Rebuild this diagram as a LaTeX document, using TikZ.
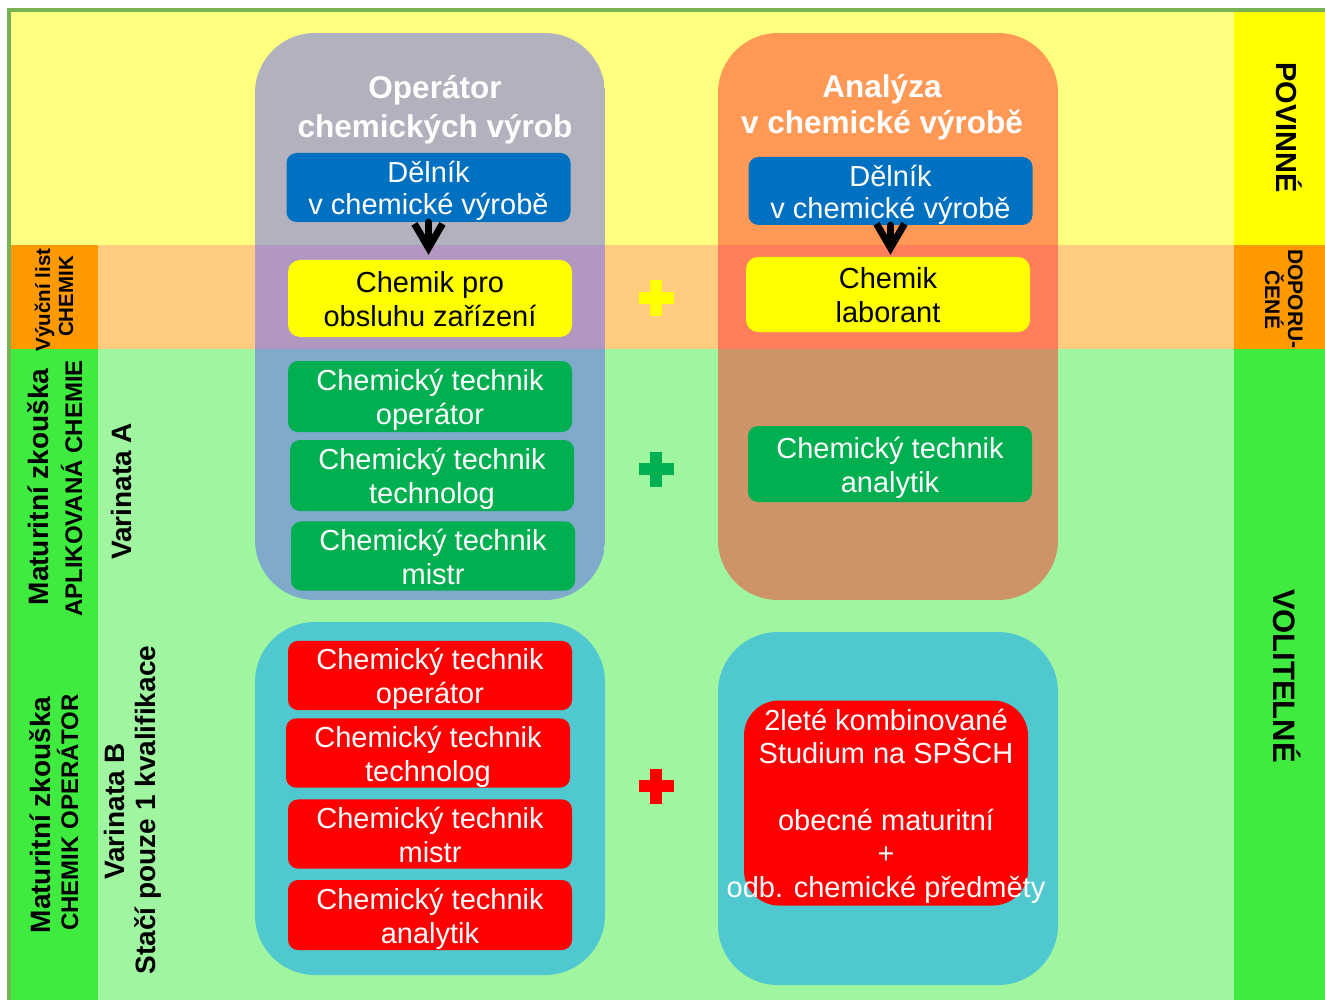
\documentclass[tikz,border=0pt]{standalone}
\usepackage{fontspec}
\setmainfont{Liberation Sans}
\usetikzlibrary{arrows.meta}
\definecolor{lY}{HTML}{FFFF80}
\definecolor{lO}{HTML}{FFCC80}
\definecolor{lG}{HTML}{A0F5A0}
\definecolor{dY}{HTML}{FFFF00}
\definecolor{dO}{HTML}{FF9900}
\definecolor{dG}{HTML}{40EB40}
\definecolor{bord}{HTML}{77B255}
\definecolor{gY}{HTML}{B2B2BE}
\definecolor{gO}{HTML}{B298C0}
\definecolor{gG}{HTML}{80AACC}
\definecolor{oY}{HTML}{FF9955}
\definecolor{oO}{HTML}{FF7F5A}
\definecolor{oG}{HTML}{CD9468}
\definecolor{cyanc}{HTML}{50C8D0}
\definecolor{cBlue}{HTML}{0070C0}
\definecolor{cGreen}{HTML}{00B050}
\definecolor{cRed}{HTML}{FF0000}
\definecolor{cYel}{HTML}{FFFF00}
\newcommand\PlusMark[3]{%
  \fill[#1] (#2-5.75,#3-17.5) rectangle (#2+5.75,#3+17.5);
  \fill[#1] (#2-17.5,#3-5.75) rectangle (#2+17.5,#3+5.75);}
\newcommand\Ts{\rule{0pt}{29pt}}
\newcommand\Bs{\rule[-6.2pt]{0pt}{6.2pt}}
\begin{document}
\begin{tikzpicture}[x=1pt,y=-1pt,
  box/.style={rounded corners=10pt, minimum width=284pt, inner sep=0pt, align=center,
    font=\fontsize{29}{34}\selectfont},
  bluebox/.style={box, fill=cBlue, text=white, font=\fontsize{29}{32}\selectfont},
  yelbox/.style={box, fill=cYel, text=black, rounded corners=12pt},
  grnbox/.style={box, fill=cGreen, text=white},
  redbox/.style={box, fill=cRed, text=white},
  title/.style={text=white, align=center},
  vlab/.style={anchor=base, rotate=90, inner sep=0pt},
  rlab/.style={anchor=base, rotate=-90, inner sep=0pt},
  arr/.style={line width=7pt, line cap=round, -{Straight Barb[length=24pt,width=28pt]}}
]
\useasboundingbox (0,0) rectangle (1325,1000);
\clip (0,0) rectangle (1325,1000);
\fill[white] (0,0) rectangle (1325,1000);
% bands
\fill[lY] (11,12) rectangle (1234,245);
\fill[lO] (98,245) rectangle (1234,349);
\fill[dO] (11,245) rectangle (98,349);
\fill[lG] (98,349) rectangle (1234,1000);
\fill[dG] (11,349) rectangle (98,1000);
\fill[dY] (1234,12) rectangle (1325,245);
\fill[dO] (1234,245) rectangle (1325,349);
\fill[dG] (1234,349) rectangle (1325,1000);
\draw[bord, line width=4.5pt] (9,10) rectangle (1340,1020);
% columns
\begin{scope}
  \clip[rounded corners=60pt] (255,33) rectangle (605,600);
  \fill[gY] (255,33) rectangle (605,245);
  \fill[gO] (255,245) rectangle (605,349);
  \fill[gG] (255,349) rectangle (605,600);
\end{scope}
\begin{scope}
  \clip[rounded corners=60pt] (718,33) rectangle (1058,600);
  \fill[oY] (718,33) rectangle (1058,245);
  \fill[oO] (718,245) rectangle (1058,349);
  \fill[oG] (718,349) rectangle (1058,600);
\end{scope}
\fill[cyanc, rounded corners=60pt] (255,622) rectangle (605,975);
\fill[cyanc, rounded corners=60pt] (718,632) rectangle (1058,985);
% titles
\node[title, font=\bfseries\fontsize{31.5}{38.5}\selectfont] (t1) at (435,109.5) {Operátor\\chemických výrob};
\node[title, font=\bfseries\fontsize{31.5}{36}\selectfont] (t2) at (882,107.5) {Analýza\\v chemické výrobě};
% blue
\node[bluebox, minimum height=69pt] (d1) at (428.5,187.5) {\Ts Dělník\\v chemické výrobě\Bs};
\node[bluebox, minimum height=68pt] (d2) at (890.5,191) {\Ts Dělník\\v chemické výrobě\Bs};
% yellow
\node[yelbox, minimum height=77pt] (c1) at (430,298.5) {\Ts Chemik pro\\obsluhu zařízení\Bs};
\node[yelbox, minimum height=75pt] (c2) at (888,294.5) {\Ts Chemik\\laborant\Bs};
% arrows
\draw[arr, shorten >=5pt] (d1.south) -- (d1.south |- c1.north);
\draw[arr, shorten >=2pt] (d2.south) -- (d2.south |- c2.north);
% green
\node[grnbox, minimum height=71pt] (g1) at (430,396.5) {\Ts Chemický technik\\operátor\Bs};
\node[grnbox, minimum height=71pt] (g2) at (432,475.5) {\Ts Chemický technik\\technolog\Bs};
\node[grnbox, minimum height=68pt] (g3) at (433,556) {\Ts Chemický technik\\mistr\Bs};
\node[grnbox, minimum height=76pt] (g4) at (890,464) {\Ts Chemický technik\\analytik\Bs};
% red
\node[redbox, minimum height=67pt] (r1) at (430,675.5) {\Ts Chemický technik\\operátor\Bs};
\node[redbox, minimum height=68pt] (r2) at (428,753) {\Ts Chemický technik\\technolog\Bs};
\node[redbox, minimum height=68pt] (r3) at (430,834) {\Ts Chemický technik\\mistr\Bs};
\node[redbox, minimum height=70pt] (r4) at (430,915) {\Ts Chemický technik\\analytik\Bs};
\node[fill=cRed, rounded corners=35pt, minimum width=284pt, minimum height=205pt, inner sep=0pt] (rb) at (886,803) {};
\node[text=white, align=center, inner sep=0pt, font=\fontsize{29}{33.4}\selectfont] (rbt) at (886,806)
  {2leté kombinované\\Studium na SPŠCH\\[33.4pt]obecné maturitní\\+\\odb. chemické předměty};
% plus signs
\PlusMark{cYel}{656}{298}
\PlusMark{cGreen}{656}{469}
\PlusMark{cRed}{656}{786}
% left labels
\node[vlab, font=\bfseries\fontsize{20.5}{23}\selectfont] (l1) at (50,300) {Výuční list};
\node[vlab, font=\bfseries\fontsize{20.5}{23}\selectfont] (l2) at (73,296.5) {CHEMIK};
\node[vlab, font=\bfseries\fontsize{28}{32}\selectfont] (l3) at (48.5,487) {Maturitní zkouška};
\node[vlab, font=\bfseries\fontsize{24}{28}\selectfont] (l4) at (82,488.5) {APLIKOVANÁ CHEMIE};
\node[vlab, font=\bfseries\fontsize{28}{32}\selectfont] (l5) at (131,491.5) {Varinata A};
\node[vlab, font=\bfseries\fontsize{28}{32}\selectfont] (l6) at (50,815) {Maturitní zkouška};
\node[vlab, font=\bfseries\fontsize{24}{28}\selectfont] (l7) at (78,812.5) {CHEMIK OPERÁTOR};
\node[vlab, font=\bfseries\fontsize{28}{32}\selectfont] (l8) at (124,811.5) {Varinata B};
\node[vlab, font=\bfseries\fontsize{28}{32}\selectfont] (l9) at (155.5,810) {Stačí pouze 1 kvalifikace};
% right labels
\node[rlab, font=\bfseries\fontsize{29}{33}\selectfont] (p1) at (1276,127.5) {POVINNÉ};
\node[rlab, font=\bfseries\fontsize{21}{24}\selectfont] (p2) at (1288,299) {DOPORU-};
\node[rlab, font=\bfseries\fontsize{21}{24}\selectfont] (p3) at (1265,300) {ČENÉ};
\node[rlab, font=\bfseries\fontsize{31}{35}\selectfont] (p4) at (1273,676) {VOLITELNÉ};
\end{tikzpicture}
\end{document}
